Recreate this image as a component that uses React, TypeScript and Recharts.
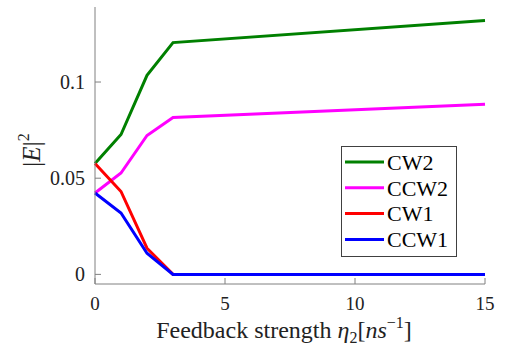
import React from 'react';
import { LineChart, Line, XAxis, YAxis, Legend } from 'recharts';

const xs = [0, 1, 2, 3, 15];
const cw2 = [0.0576, 0.0727, 0.1035, 0.1205, 0.132];
const ccw2 = [0.0423, 0.0527, 0.0722, 0.0816, 0.0884];
const cw1 = [0.0576, 0.0431, 0.0136, 0, 0];
const ccw1 = [0.0423, 0.0319, 0.011, 0, 0];
const xTicks = [0, 5, 10, 15];
const yTicks = [0, 0.05, 0.1];

const seriesDefs = [
  { key: 'CW2', color: '#008000' },
  { key: 'CCW2', color: '#ff00ff' },
  { key: 'CW1', color: '#ff0000' },
  { key: 'CCW1', color: '#0000ff' },
];

const data = xs.map((x, i) => ({ x, CW2: cw2[i], CCW2: ccw2[i], CW1: cw1[i], CCW1: ccw1[i] }));

const FONT = 'Liberation Serif, Times New Roman, DejaVu Serif, serif';
const AXIS = '#808080';

const LegendBox = () => (
  <svg width={117} height={112} style={{ display: 'block' }}>
    <rect x={0.5} y={0.5} width={115} height={110} fill="#fff" stroke="#404040" strokeWidth={1} />
    {seriesDefs.map((s, i) => (
      <g key={s.key}>
        <line x1={4} x2={43} y1={16 + i * 25.8} y2={16 + i * 25.8} stroke={s.color} strokeWidth={3} />
        <text x={46} y={16 + i * 25.8} dy="0.35em" style={{ fontFamily: FONT }} fontSize={22} fill="#000">{s.key}</text>
      </g>
    ))}
  </svg>
);

const YLabel = () => (
  <text transform="translate(40,150) rotate(-90)" textAnchor="middle" style={{ fontFamily: FONT }} fontSize={25} fill="#222">
    <tspan>|</tspan><tspan fontStyle="italic">E</tspan><tspan>|</tspan><tspan fontSize={16} dy={-11}>2</tspan>
  </text>
);

const XLabel = () => (
  <text x={284} y={338} textAnchor="middle" style={{ fontFamily: FONT }} fontSize={24} fill="#222">
    <tspan>Feedback strength </tspan>
    <tspan fontStyle="italic">η</tspan>
    <tspan fontSize={16} dy={5}>2</tspan>
    <tspan dy={-5}>[</tspan>
    <tspan fontStyle="italic">ns</tspan>
    <tspan fontSize={16} dy={-10}>−1</tspan>
    <tspan dy={10}>]</tspan>
  </text>
);

export default function App() {
  return (
    <div style={{ position: 'absolute', left: 0, top: 0, width: 505, height: 346, background: '#fff', fontFamily: FONT }}>
      <LineChart width={505} height={346} data={data} margin={{ top: 7, right: 20, left: 0, bottom: 0 }} style={{ fontFamily: FONT }}>
        <XAxis
          dataKey="x"
          type="number"
          domain={[0, 15]}
          ticks={xTicks}
          height={62}
          tickSize={-6}
          tickMargin={19}
          axisLine={{ stroke: AXIS }}
          tickLine={{ stroke: AXIS }}
          tick={{ style: { fontFamily: FONT }, fontSize: 19, fill: '#222' }}
          label={<XLabel />}
        />
        <XAxis
          xAxisId="top"
          orientation="top"
          dataKey="x"
          type="number"
          domain={[0, 15]}
          ticks={xTicks}
          height={0}
          tickSize={-6}
          axisLine={{ stroke: AXIS }}
          tickLine={{ stroke: AXIS }}
          tick={false}
        />
        <YAxis
          type="number"
          domain={[-0.005, 0.139]}
          ticks={yTicks}
          width={95}
          tickSize={-6}
          tickMargin={16}
          axisLine={{ stroke: AXIS }}
          tickLine={{ stroke: AXIS }}
          tick={{ style: { fontFamily: FONT }, fontSize: 20, fill: '#222' }}
          tickFormatter={(v: number) => String(v)}
          label={<YLabel />}
        />
        <YAxis
          yAxisId="right"
          orientation="right"
          type="number"
          domain={[-0.005, 0.139]}
          ticks={yTicks}
          width={0}
          tickSize={-6}
          axisLine={{ stroke: AXIS }}
          tickLine={{ stroke: AXIS }}
          tick={false}
        />
        {seriesDefs.map((s) => (
          <Line
            key={s.key}
            dataKey={s.key}
            stroke={s.color}
            strokeWidth={3}
            dot={false}
            isAnimationActive={false}
          />
        ))}
        <Legend
          layout="vertical"
          align="center"
          verticalAlign="middle"
          content={<LegendBox />}
          wrapperStyle={{ position: 'absolute', left: 341, top: 146, width: 117, height: 112 }}
        />
      </LineChart>
    </div>
  );
}
